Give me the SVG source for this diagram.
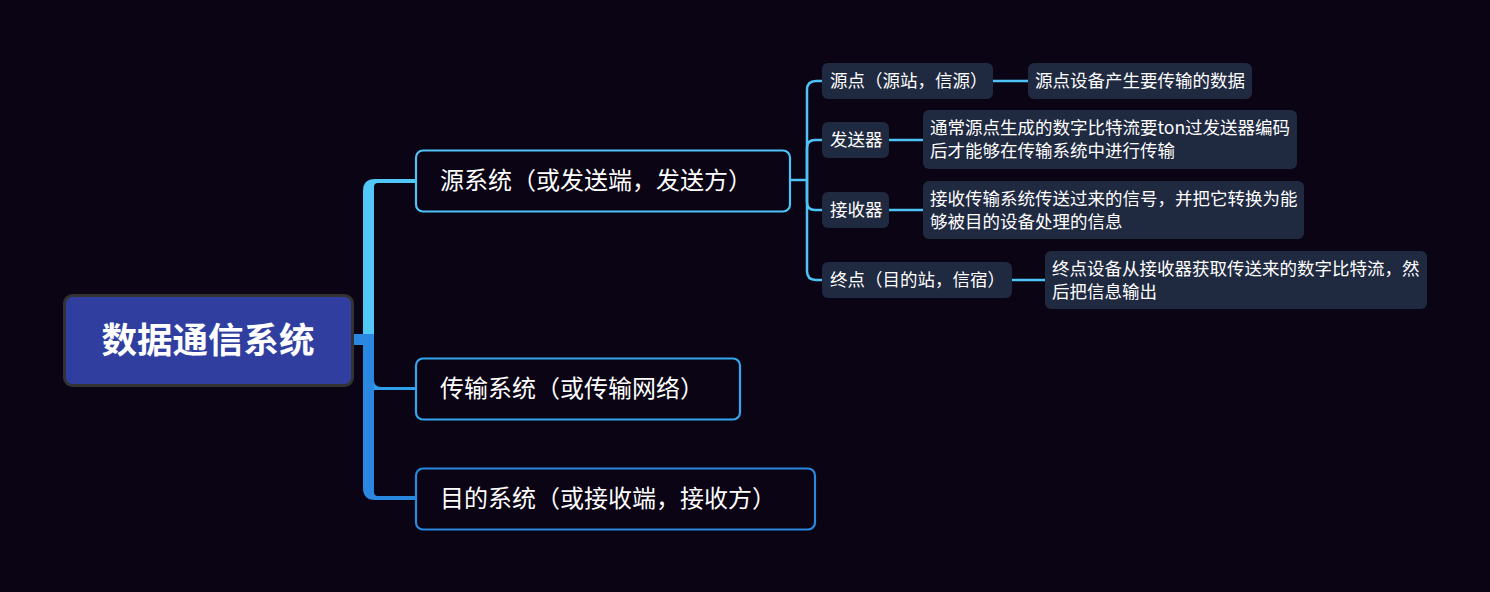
<svg xmlns="http://www.w3.org/2000/svg" width="1490" height="592" viewBox="0 0 1490 592">
<style>
text{font-family:"Noto Sans CJK SC","Noto Sans",sans-serif;fill:#ffffff}
.root{font-size:35.5px;font-weight:bold}
.l1t{font-size:24px}
.l2t{font-size:17.5px}
.l1{fill:#0a0414;stroke-width:2.2}
.l2{fill:#1f2940}
.ln{fill:none;stroke:#4fc3f7;stroke-width:2.5}
</style>
<rect width="1490" height="592" fill="#0a0414"/>
<g id="connectors">
<path d="M354 334 H368 V345 H354 Z" fill="#2a88e0"/>
<path d="M363 336 V191 Q363 179 375 179 H417 V183 H378 Q374 183 374 187 V336 Z" fill="#52c8f8"/>
<path d="M363 334 V488 Q363 500 375 500 H417 V496 H378 Q374 496 374 492 V334 Z" fill="#2a88e0"/>
<path d="M374 380 Q374 387 381 387 H417 V390 H374 Z" fill="#2f9eec"/>
<path class="ln" d="M790 180 H807"/>
<path class="ln" d="M807 180 V90 Q807 81 816 81 H823"/>
<path class="ln" d="M807 180 V148 Q807 140 815 140 H823"/>
<path class="ln" d="M807 180 V202 Q807 210 815 210 H823"/>
<path class="ln" d="M807 180 V271 Q807 280 816 280 H823"/>
<path class="ln" d="M992 81 H1028"/>
<path class="ln" d="M889 140 H923"/>
<path class="ln" d="M889 210 H923"/>
<path class="ln" d="M1012 280 H1045"/>
</g>
<g id="root">
<rect x="64.5" y="295.5" width="288" height="90" rx="8" fill="#303f9f" stroke="#333333" stroke-width="3"/>
<text class="root" x="208" y="353" text-anchor="middle">数据通信系统</text>
</g>
<g id="n-src">
<rect class="l1" x="416" y="150.5" width="374" height="61" rx="7" stroke="#4fc3f7"/>
<text class="l1t" x="440" y="189">源系统（或发送端，发送方）</text>
</g>
<g id="n-trans">
<rect class="l1" x="416" y="358.5" width="324" height="61" rx="7" stroke="#33a6ee"/>
<text class="l1t" x="440" y="397">传输系统（或传输网络）</text>
</g>
<g id="n-dst">
<rect class="l1" x="416" y="468.5" width="399" height="61" rx="7" stroke="#2a88e0"/>
<text class="l1t" x="440" y="507">目的系统（或接收端，接收方）</text>
</g>
<g id="n-origin">
<rect class="l2" x="822" y="63" width="171" height="36" rx="6"/>
<text class="l2t" x="830" y="87">源点（源站，信源）</text>
</g>
<g id="n-origin-d">
<rect class="l2" x="1028" y="63" width="224" height="36" rx="6"/>
<text class="l2t" x="1035" y="87">源点设备产生要传输的数据</text>
</g>
<g id="n-tx">
<rect class="l2" x="822" y="122" width="67" height="36" rx="6"/>
<text class="l2t" x="830" y="146">发送器</text>
</g>
<g id="n-tx-d">
<rect class="l2" x="923" y="110" width="374" height="59" rx="6"/>
<text class="l2t" x="930" y="134">通常源点生成的数字比特流要ton过发送器编码</text>
<text class="l2t" x="930" y="157">后才能够在传输系统中进行传输</text>
</g>
<g id="n-rx">
<rect class="l2" x="822" y="192" width="67" height="36" rx="6"/>
<text class="l2t" x="830" y="216">接收器</text>
</g>
<g id="n-rx-d">
<rect class="l2" x="923" y="181" width="381" height="58" rx="6"/>
<text class="l2t" x="930" y="205">接收传输系统传送过来的信号，并把它转换为能</text>
<text class="l2t" x="930" y="228">够被目的设备处理的信息</text>
</g>
<g id="n-end">
<rect class="l2" x="822" y="262" width="190" height="36" rx="6"/>
<text class="l2t" x="830" y="286">终点（目的站，信宿）</text>
</g>
<g id="n-end-d">
<rect class="l2" x="1045" y="251" width="382" height="58" rx="6"/>
<text class="l2t" x="1052" y="275">终点设备从接收器获取传送来的数字比特流，然</text>
<text class="l2t" x="1052" y="298">后把信息输出</text>
</g>
</svg>
